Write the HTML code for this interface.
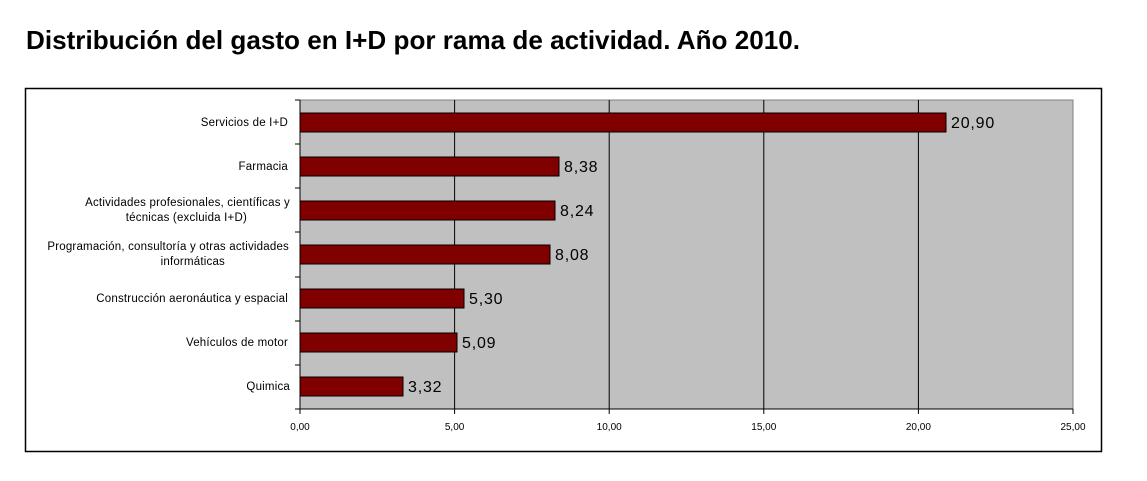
<!DOCTYPE html>
<html><head><meta charset="utf-8"><style>
body{margin:0;background:#fff;width:1147px;height:476px;overflow:hidden;font-family:"Liberation Sans",sans-serif}
</style></head><body>
<svg width="1147" height="476" xmlns="http://www.w3.org/2000/svg" font-family="Liberation Sans, sans-serif">
<text x="26" y="49" font-size="26" font-weight="bold" fill="#000" textLength="774" lengthAdjust="spacingAndGlyphs">Distribución del gasto en I+D por rama de actividad. Año 2010.</text>
<rect x="25.5" y="88.5" width="1076" height="363" fill="#fff" stroke="#000" stroke-width="1.5"/>
<rect x="300" y="100" width="773" height="309" fill="#c0c0c0" stroke="#808080" stroke-width="1"/>
<g stroke="#000" stroke-width="1">
<line x1="454.6" y1="100" x2="454.6" y2="409"/>
<line x1="609.2" y1="100" x2="609.2" y2="409"/>
<line x1="763.8" y1="100" x2="763.8" y2="409"/>
<line x1="918.4" y1="100" x2="918.4" y2="409"/>
<line x1="300" y1="100" x2="300" y2="409"/>
<line x1="300" y1="409" x2="1073" y2="409"/>
<line x1="295" y1="100" x2="300" y2="100"/>
<line x1="295" y1="144" x2="300" y2="144"/>
<line x1="295" y1="188" x2="300" y2="188"/>
<line x1="295" y1="232" x2="300" y2="232"/>
<line x1="295" y1="277" x2="300" y2="277"/>
<line x1="295" y1="321" x2="300" y2="321"/>
<line x1="295" y1="365" x2="300" y2="365"/>
<line x1="295" y1="409" x2="300" y2="409"/>
<line x1="300" y1="409" x2="300" y2="414"/>
<line x1="454.6" y1="409" x2="454.6" y2="414"/>
<line x1="609.2" y1="409" x2="609.2" y2="414"/>
<line x1="763.8" y1="409" x2="763.8" y2="414"/>
<line x1="918.4" y1="409" x2="918.4" y2="414"/>
<line x1="1073" y1="409" x2="1073" y2="414"/>
</g>
<g fill="#800000" stroke="#000" stroke-width="1">
<rect x="300" y="113" width="646" height="19"/>
<rect x="300" y="157" width="259" height="19"/>
<rect x="300" y="201" width="255" height="19"/>
<rect x="300" y="245" width="250" height="19"/>
<rect x="300" y="289" width="164" height="19"/>
<rect x="300" y="333" width="157" height="19"/>
<rect x="300" y="377" width="103" height="19"/>
</g>
<g font-size="16" fill="#000" letter-spacing="0.8">
<text x="951" y="128">20,90</text>
<text x="564" y="172">8,38</text>
<text x="560" y="216">8,24</text>
<text x="555" y="260">8,08</text>
<text x="469" y="304">5,30</text>
<text x="462" y="348">5,09</text>
<text x="408" y="392">3,32</text>
</g>
<g font-size="11.5" fill="#000" text-anchor="end" letter-spacing="0.2">
<text x="288" y="126">Servicios de I+D</text>
<text x="288" y="170">Farmacia</text>
<text x="290" y="206">Actividades profesionales, científicas y</text>
<text x="247" y="221">técnicas (excluida I+D)</text>
<text x="289" y="250">Programación, consultoría y otras actividades</text>
<text x="225" y="265">informáticas</text>
<text x="288" y="302">Construcción aeronáutica y espacial</text>
<text x="288" y="346">Vehículos de motor</text>
<text x="290" y="390">Quimica</text>
</g>
<g font-size="10" fill="#000" text-anchor="middle">
<text x="300" y="430">0,00</text>
<text x="454.6" y="430">5,00</text>
<text x="609.2" y="430">10,00</text>
<text x="763.8" y="430">15,00</text>
<text x="918.4" y="430">20,00</text>
<text x="1073" y="430">25,00</text>
</g>
</svg>
</body></html>
